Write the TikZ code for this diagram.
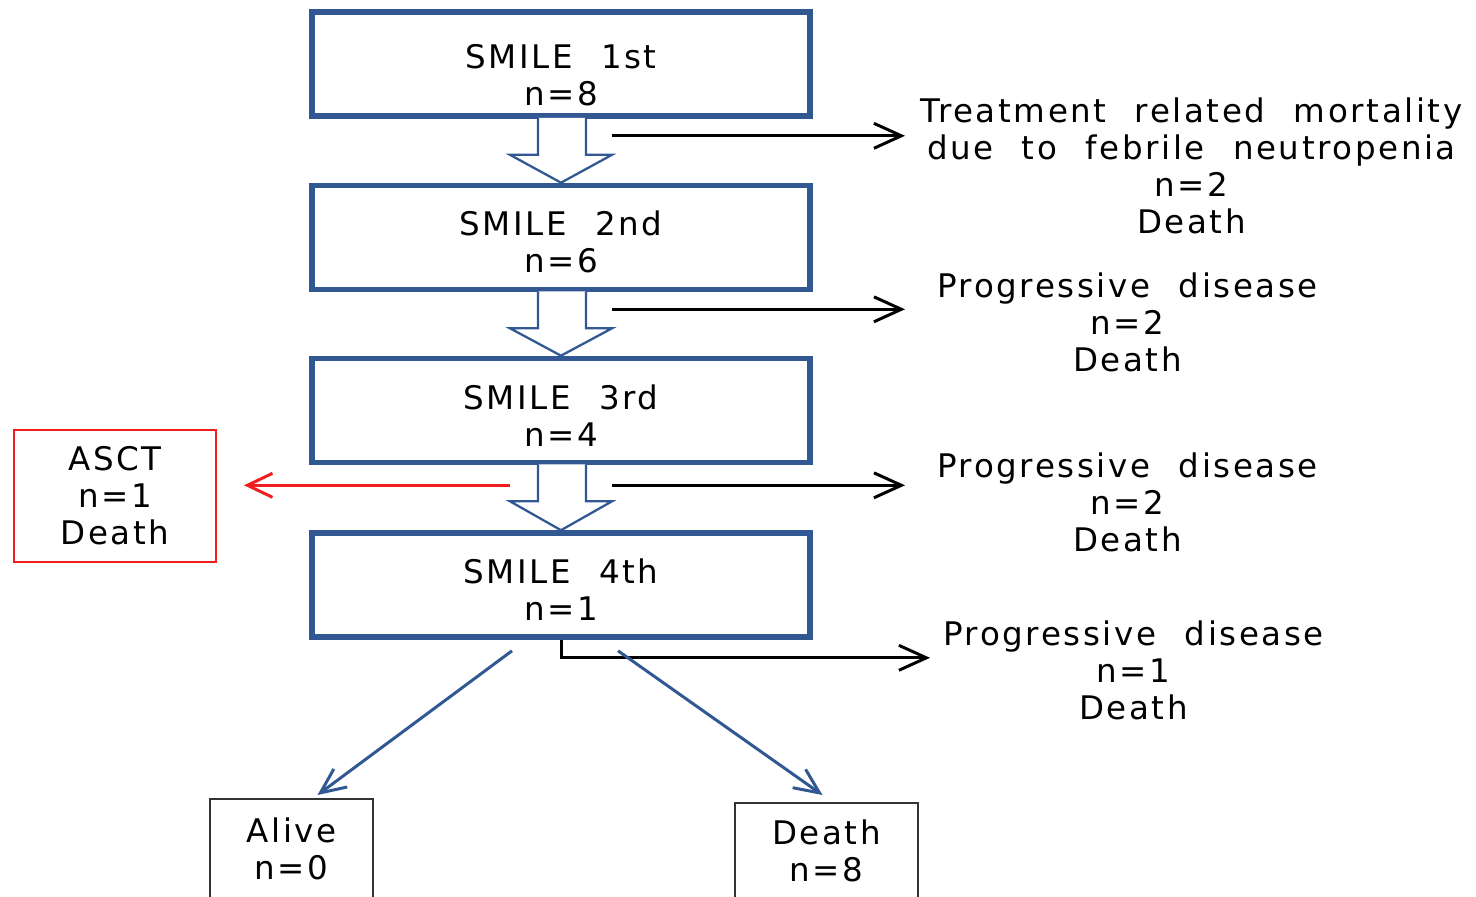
\documentclass[tikz,border=0pt]{standalone}
\usepackage{fontspec}
\setmainfont{DejaVu Sans}[LetterSpace=8,WordSpace=2.2]
\usetikzlibrary{arrows.meta,calc}

\definecolor{boxblue}{RGB}{50,88,148}
\definecolor{ascred}{RGB}{240,30,30}

\tikzset{
  smile/.style={draw=boxblue,line width=3.2pt,minimum width=9.96cm,minimum height=2.08cm,align=center},
  endbox/.style={draw=black!80,line width=1.4pt,align=center},
  note/.style={align=center,inner sep=0pt,anchor=west},
  hollow/.style={draw=boxblue,line width=1.3pt,fill=white,line join=miter},
  blk/.style={line width=1.7pt,-{Straight Barb[length=0.55cm,width=0.5cm,line width=1.7pt]}},
  redarr/.style={draw=ascred,line width=1.7pt,-{Straight Barb[length=0.5cm,width=0.48cm,line width=1.7pt]}},
  bluearr/.style={draw=boxblue,line width=1.7pt,-{Straight Barb[length=0.5cm,width=0.45cm,line width=1.7pt]}}
}

\begin{document}
\begin{tikzpicture}[x=0.02cm,y=-0.02cm,font=\fontsize{18.5}{21}\selectfont]
\useasboundingbox (0,0) rectangle (1476,896);

% treatment cycles
\node[smile] (s1) at (561,64) {};
\node[smile] (s2) at (561,237.5) {};
\node[smile] (s3) at (561,410.5) {};
\node[smile] (s4) at (561,585) {};
\node[align=center] at (561,75) {SMILE 1st\\n=8};
\node[align=center] at (561,242) {SMILE 2nd\\n=6};
\node[align=center] at (561,416) {SMILE 3rd\\n=4};
\node[align=center] at (561,590) {SMILE 4th\\n=1};

% outcomes
\node[draw=ascred,line width=1.2pt,minimum width=4.04cm,minimum height=2.64cm,align=center] (asct) at (115,496) {ASCT\\n=1\\Death};
\node[endbox,minimum width=3.26cm,minimum height=2.0cm,anchor=north] (alive) at (291.5,798) {Alive\\n=0};
\node[endbox,minimum width=3.66cm,minimum height=1.9cm,anchor=north] (death) at (826.5,802) {Death\\n=8};

\node[note] (t1) at (920,166) {Treatment related mortality\\due to febrile neutropenia\\n=2\\Death};
\node[note] (t2) at (937,322) {Progressive disease\\n=2\\Death};
\node[note] (t3) at (937,502) {Progressive disease\\n=2\\Death};
\node[note] (t4) at (943,670) {Progressive disease\\n=1\\Death};

% hollow arrows between cycles
\foreach \a/\b in {s1/s2,s2/s3,s3/s4}{
  \draw[hollow] ($(\a.south)+(-23,-1)$) -- ++(0,37) -- ++(-28,0) -- (\b.north)
    -- ($(\a.south)+(51,36)$) -- ++(-26,0) -- ($(\a.south)+(25,-1)$);
}

% exits
\coordinate (o1) at ($(s1.south)+(51,17)$);
\coordinate (o2) at ($(s2.south)+(51,17)$);
\coordinate (o3) at ($(s3.south)+(51,20)$);
\coordinate (o4) at ($(s4.south)+(0,18)$);
\coordinate (r1) at ($(s3.south)+(-51,20)$);
\draw[blk,shorten >=0.3cm] (o1) -- (o1 -| t1.west);
\draw[blk,shorten >=0.64cm] (o2) -- (o2 -| t2.west);
\draw[blk,shorten >=0.64cm] (o3) -- (o3 -| t3.west);
\draw[blk,shorten >=0.26cm] (s4.south) -- (o4) -- (o4 -| t4.west);
\draw[redarr,shorten >=0.54cm] (r1) -- (r1 -| asct.east);

% final status
\draw[bluearr] ($(s4.south)+(-49,11)$) -- ($(alive.north)+(26,-3)$);
\draw[bluearr] ($(s4.south)+(57,11)$) -- ($(death.north)+(-4,-7)$);
\end{tikzpicture}
\end{document}
